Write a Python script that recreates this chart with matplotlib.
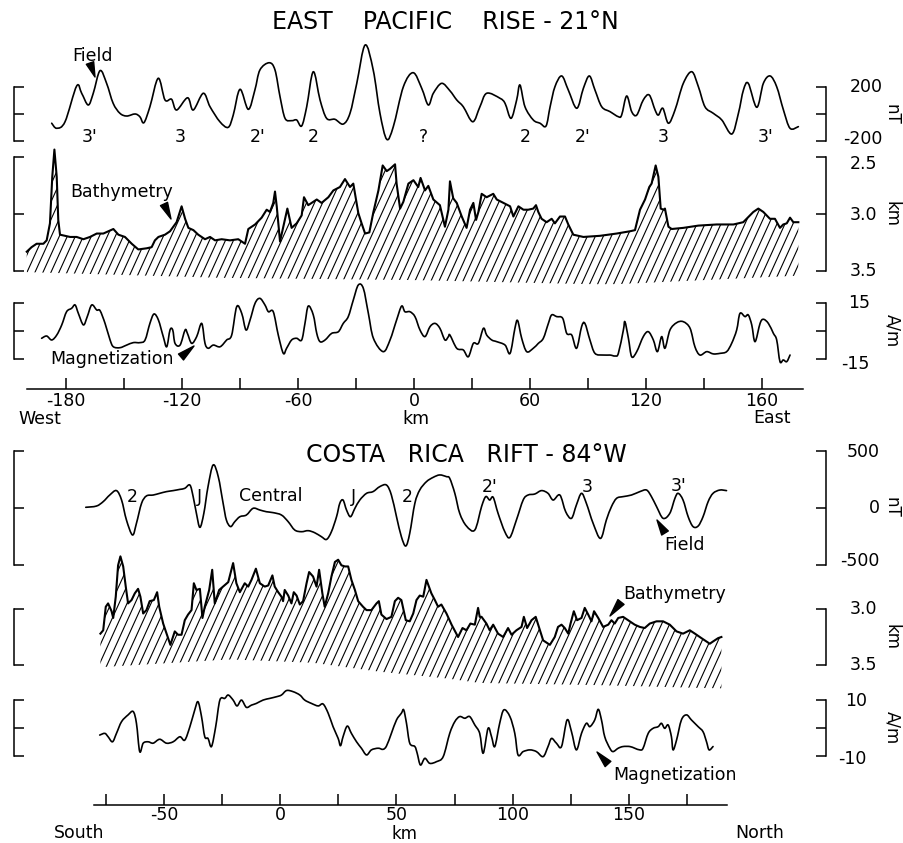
import numpy as np
import matplotlib
matplotlib.use("Agg")
import matplotlib.pyplot as plt
from matplotlib.collections import LineCollection
from matplotlib.transforms import IdentityTransform, blended_transform_factory, offset_copy
from matplotlib.path import Path
from matplotlib.patches import PathPatch, FancyArrowPatch

plt.rcParams['font.family'] = ['DejaVu Sans']

# ---------------- DATA : East Pacific Rise 21N ----------------
field_top_km = [-187.4, -184.8, -180.5, -174.5, -171.9, -168.5, -165.9, -162.4, -159.0, -155.6,
                -152.1, -148.6, -144.3, -141.8, -139.7, -136.6, -132.3, -128.8, -125.4, -122.8,
                -117.1, -114.2, -109.0, -105.5, -100.4, -96.1, -93.5, -90.0, -85.7, -82.3,
                -79.7, -74.9, -71.9, -69.3, -66.7, -63.3, -60.7, -58.1, -55.5, -52.1,
                -48.6, -45.2, -40.9, -36.6, -33.1, -29.6, -25.3, -21.1, -17.6, -14.1,
                -10.7, -5.5, -0.4, 4.0, 7.4, 10.0, 14.3, 18.6, 22.1, 25.5,
                30.4, 34.1, 37.6, 44.5, 47.1, 50.2, 53.1, 54.8, 57.4, 61.7,
                65.2, 68.3, 70.4, 72.9, 76.4, 79.8, 84.2, 87.6, 90.7, 93.6,
                97.1, 101.4, 105.7, 107.4, 110.0, 112.6, 115.2, 118.6, 121.7, 124.7,
                126.4, 128.7, 131.6, 135.0, 139.3, 143.7, 147.1, 150.5, 154.8, 159.2,
                164.4, 167.8, 170.4, 172.9, 177.3, 180.7, 184.2, 187.6, 191.1, 194.5, 198.8]
field_top_nT = [-66, -103, -55, 207, 154, 68, 154, 320, 227, 80,
                7, -13, 2, -18, -62, 55, 264, 105, 110, 31,
                121, 31, 154, 55, -55, -96, -6, 183, 36, 178,
                325, 378, 325, 129, -30, -47, -42, -86, 55, 312,
                105, -30, -37, -72, 7, 227, 508, 325, 7, -184,
                -91, 202, 305, 190, 68, 154, 227, 172, 105, 55,
                -55, 55, 154, 117, 80, -30, 105, 215, 55, -42,
                -66, -86, 55, 202, 281, 178, 44, 190, 281, 178,
                55, 19, -18, -6, 134, 19, -6, 105, 141, 31,
                -6, 44, -66, 31, 227, 312, 202, 55, 7, -42,
                -145, 7, 178, 227, 51, 227, 281, 202, 31, -103, -91]

bathy_top_km = [-200.3, -197.8, -195.2, -191.7, -190.0, -188.3, -187.1, -186.0, -184.8, -184.0,
                -183.1, -180.5, -177.9, -174.5, -171.0, -167.6, -164.1, -160.7, -155.5, -152.9,
                -149.5, -146.0, -142.6, -138.3, -135.7, -134.0, -132.2, -128.8, -126.2, -122.8,
                -120.2, -118.4, -116.7, -114.1, -111.6, -108.1, -105.5, -102.9, -99.5, -95.2,
                -90.9, -87.4, -85.7, -82.2, -78.8, -76.2, -74.5, -72.8, -71.9, -71.0,
                -69.3, -67.6, -65.5, -63.3, -60.7, -58.1, -56.9, -54.7, -52.9, -50.3,
                -47.8, -44.3, -41.7, -38.3, -35.7, -33.1, -31.4, -28.8, -27.1, -25.3,
                -23.1, -21.0, -18.4, -16.2, -14.1, -12.4, -9.8, -9.0, -7.2, -5.5,
                -2.9, -0.3, 2.2, 3.4, 5.7, 7.4, 10.0, 13.4, 16.0, 17.8,
                18.6, 20.3, 22.1, 24.7, 27.2, 29.0, 30.7, 32.1, 33.3, 35.0,
                37.6, 41.0, 42.8, 46.2, 49.7, 51.4, 54.0, 56.6, 59.1, 61.7,
                63.1, 64.3, 66.0, 68.6, 71.2, 72.9, 75.5, 78.1, 79.8, 82.4,
                87.6, 96.2, 104.8, 111.7, 114.3, 116.9, 119.5, 121.7, 122.9, 124.1,
                125.0, 126.4, 127.6, 129.0, 129.8, 131.6, 133.3, 139.3, 147.1, 156.6,
                165.2, 170.3, 175.5, 178.1, 180.7, 184.1, 186.7, 189.3, 191.0, 192.8,
                194.5, 196.2, 198.8]
bathy_top_depth = [3.33, 3.29, 3.26, 3.26, 3.23, 3.08, 2.67, 2.43, 2.67, 3.05,
                   3.18, 3.19, 3.20, 3.20, 3.22, 3.20, 3.17, 3.17, 3.13, 3.18,
                   3.20, 3.26, 3.31, 3.30, 3.29, 3.23, 3.20, 3.18, 3.15, 3.07,
                   2.93, 3.04, 3.12, 3.14, 3.18, 3.22, 3.20, 3.23, 3.22, 3.23,
                   3.22, 3.26, 3.13, 3.09, 3.03, 2.96, 2.98, 2.90, 2.80, 2.93,
                   3.24, 3.11, 2.95, 3.12, 3.08, 3.01, 2.85, 2.92, 2.90, 2.87,
                   2.90, 2.85, 2.79, 2.76, 2.69, 2.76, 2.73, 2.99, 3.08, 3.17,
                   3.16, 2.98, 2.79, 2.57, 2.62, 2.60, 2.56, 2.73, 2.95, 2.89,
                   2.73, 2.70, 2.76, 2.68, 2.79, 2.75, 2.87, 2.92, 3.11, 2.96,
                   2.71, 2.86, 2.90, 3.02, 3.12, 2.96, 2.90, 3.05, 2.98, 2.82,
                   2.85, 2.82, 2.87, 2.90, 2.93, 3.02, 2.93, 2.96, 2.96, 2.95,
                   2.92, 2.98, 3.04, 3.07, 3.04, 3.08, 3.02, 3.02, 3.09, 3.18,
                   3.20, 3.19, 3.17, 3.15, 3.14, 2.96, 2.87, 2.76, 2.73, 2.64,
                   2.57, 2.67, 2.95, 2.96, 2.95, 3.11, 3.13, 3.12, 3.10, 3.09,
                   3.09, 3.07, 2.98, 2.95, 2.98, 3.04, 3.04, 3.12, 3.09, 3.08,
                   3.03, 3.07, 3.07]
base_top_km = [-200, -100, 0, 100, 200]
base_top_depth = [3.51, 3.56, 3.58, 3.62, 3.54]

mag_top_km = [-192.6, -190.0, -187.4, -184.8, -182.2, -179.7, -177.1, -175.3, -173.6, -171.0,
              -169.0, -166.7, -164.1, -162.4, -159.8, -157.2, -155.5, -152.1, -148.6, -145.2,
              -141.7, -139.1, -136.6, -134.5, -132.2, -129.7, -127.9, -126.2, -124.8, -123.6,
              -121.0, -118.4, -117.2, -115.0, -112.4, -109.8, -108.1, -106.4, -103.8, -100.3,
              -96.9, -94.3, -91.7, -89.1, -86.9, -84.8, -82.2, -79.7, -77.1, -75.3,
              -72.8, -70.2, -67.6, -65.9, -63.3, -60.7, -58.1, -56.4, -54.7, -52.1,
              -50.3, -48.6, -46.0, -42.6, -39.1, -36.6, -34.0, -31.4, -28.8, -26.2,
              -23.6, -21.0, -15.9, -12.4, -9.0, -6.4, -4.7, -2.1, 0.5, 3.1,
              5.7, 8.3, 10.9, 13.4, 16.0, 17.8,
              18.6, 22.1, 25.5, 28.1, 30.7, 33.3, 35.9, 37.6, 40.2, 42.8,
              47.1, 49.7, 52.2, 53.6, 55.7, 58.3, 61.7, 64.3, 66.9, 69.5,
              71.2, 73.8, 76.9, 79.0, 81.6, 84.1, 86.7, 88.4, 91.0, 93.6,
              97.9, 101.4, 104.0, 105.7, 108.3, 109.1, 110.9, 112.6, 115.2, 118.6,
              121.2, 123.8, 125.9, 128.1, 129.8, 132.4, 135.9, 139.3, 142.8, 145.3,
              147.9, 151.4, 154.8, 158.3, 161.7, 164.3, 166.9, 168.6, 171.2, 172.9,
              174.7, 176.4, 179.0, 180.7, 183.3, 185.9, 187.6, 189.3, 191.0, 192.8, 194.5]
mag_top_Am = [-4.0, -2.8, -4.9, -2.3, 3.1, 10.1, 11.9, 13.7, 9.2, 3.1,
              7.5, 13.7, 11.0, 10.7, 3.9, -4.9, -8.5, -9.0, -7.6, -6.3,
              -6.3, -4.9, 3.9, 8.9, 5.7, -3.1, -8.5, 0.4, 0.4, -6.7,
              -7.6, 0.4, -1.4, -6.7, -3.1, 3.9, -6.7, -9.3, -7.6, -8.5,
              -4.9, -2.3, 12.8, 9.2, 0.4, 5.7, 14.6, 17.2, 13.7, 10.1,
              10.1, -2.3, -12.0, -9.3, -4.9, -4.0, -4.9, 3.9, 13.1, 8.4,
              -1.4, -5.8, -4.9, -1.4, -0.5, 3.9, 7.5, 16.3, 24.3, 22.5,
              9.2, -4.0, -11.1, -4.9, 5.7, 13.1, 10.1, 10.1, 7.5, 0.4,
              -3.1, 2.2, 3.9, 1.3, -4.9, -3.1,
              -2.3, -9.3, -10.2, -13.8, -6.7, -6.7, 1.3, -2.3, -4.9, -5.8,
              -7.6, -12.0, 1.3, 5.4, -4.0, -11.1, -9.3, -6.7, -4.0, 3.9,
              8.4, 7.5, 6.6, -1.4, -2.3, -9.3, 2.2, 3.9, -4.9, -12.0,
              -12.9, -12.9, -13.4, -12.0, 0.4, 4.8, -4.0, -13.8, -11.1, -3.1,
              -0.5, -4.9, -11.1, -3.1, -9.3, 0.4, 4.3, 4.8, 1.3, -8.5,
              -12.9, -11.1, -12.3, -12.0, -11.1, -6.7, 0.4, 9.2, 7.5, 8.4,
              3.1, -5.8, 3.9, 6.1, 3.9, -1.4, -4.9, -16.4, -15.5, -16.4, -12.9]

top_ticks = [-180, -150, -120, -90, -60, -30, 0, 30, 60, 90, 120, 150, 180]
top_tick_labels = ['-180', '', '-120', '', '-60', '', '0', '', '60', '', '120', '', '160']
top_anoms = ["3'", "3", "2'", "2", "?", "2", "2'", "3", "3'"]
top_anom_km = [-167.6, -121.0, -80.7, -52.3, 4.7, 57.4, 87.4, 128.8, 181.6]

# ---------------- DATA : Costa Rica Rift 84W ----------------
field_bot_km = [-83.7, -79.1, -76.2, -73.4, -70.5, -68.3, -66.2, -63.6, -61.9, -59.7,
                -57.6, -54.7, -51.9, -49.0, -46.1, -43.2, -41.1, -38.9, -37.5, -36.1,
                -34.6, -32.9, -31.1, -28.9, -26.7, -24.6, -23.2, -21.4, -19.6, -17.4,
                -14.6, -11.7, -8.8, -6.0, -3.1, 0.5, 3.4, 6.2, 9.1, 12.0,
                14.8, 17.7, 19.9, 22.0, 24.2, 25.6, 27.0, 28.5, 30.2, 32.1,
                34.2, 37.1, 39.9, 42.8, 45.7, 47.8, 50.0, 52.1, 54.0, 55.7,
                57.9, 60.0, 62.9, 65.8, 68.6, 71.5,
                72.9, 75.1, 77.2, 80.1, 83.7, 86.6, 88.4, 90.1, 91.6, 93.7,
                96.6, 98.8, 101.6, 104.5, 106.6, 109.5, 112.4, 115.2, 117.4, 120.3,
                122.8, 125.3, 127.4, 129.6, 131.7, 134.6, 137.8, 140.3, 142.5, 144.7,
                147.5, 151.1, 154.7, 157.6, 159.7, 161.9, 164.7, 167.6, 169.8, 171.2,
                173.3, 175.5, 177.6, 179.8, 181.9, 184.1, 186.2, 189.1, 192.0]
field_bot_nT = [4, 15, 54, 112, 151, 68, -108, -240, -137, 39,
                104, 112, 127, 142, 151, 162, 171, 200, 98, -49,
                -173, -49, 186, 377, 274, 39, -108, -166, -123, -79,
                -64, -5, -20, -35, -43, -64, -123, -196, -211, -202,
                -220, -255, -279, -211, -79, 39, 68, -20, -79, -5,
                68, 127, 142, 186, 200, 112, -79, -255, -337, -225,
                39, 156, 230, 268, 289, 274,
                259, 127, -49, -161, -196, 10, 98, 68, 92, -49,
                -211, -261, -108, 68, 112, 121, 151, 127, 68, 112,
                -35, -93, 24, 127, 39, -137, -270, -108, 10, 83,
                98, 112, 142, 156, 98, 10, -93, -49, 83, 127,
                68, -79, -166, -161, -79, 54, 127, 156, 151]

bathy_bot_km = [-77.4, -76.2, -75.1, -74.1, -72.6, -71.9, -70.8, -69.8, -68.8, -67.6,
                -66.5, -65.5, -64.0, -62.6, -61.2, -60.2, -59.0, -57.6, -56.2, -54.4,
                -53.0, -52.1, -50.4, -48.3, -47.3, -45.4, -44.0, -42.5, -41.1, -39.7,
                -38.2, -37.2, -36.1, -34.6, -33.5, -32.5, -30.6, -29.3, -28.2, -26.3,
                -24.6, -22.4, -20.3, -18.9, -17.4, -15.3, -13.8, -12.4, -10.5, -8.8,
                -6.7, -5.2, -3.4, -2.4, -0.9, 0.5, 1.2, 1.9, 3.4, 4.8,
                5.8, 7.0, 8.4, 9.8, 11.3, 12.4, 14.1, 15.6, 16.7, 18.1,
                19.1, 20.6, 22.0, 23.5, 24.9, 26.3, 27.8, 29.2, 30.6, 32.1,
                33.5, 35.6, 37.1, 39.2, 41.4, 42.4, 43.5, 45.7, 47.8, 49.3,
                50.7, 52.1, 54.0, 55.7, 57.2, 58.6, 60.0, 61.5, 62.9, 65.0,
                66.5, 67.9, 69.3, 71.5, 73.7, 76.5, 78.4, 80.1, 81.8, 83.7,
                85.1, 85.8,
                86.6, 88.7, 90.1, 91.6, 93.7, 95.9, 98.0, 99.5, 101.6, 103.8,
                104.8, 106.2, 108.1, 109.9, 111.4, 113.1, 116.0, 118.1, 119.5, 121.0,
                122.4, 123.9, 124.9, 126.3, 127.7, 129.6, 131.0, 132.5, 133.9, 135.0,
                136.8, 138.9, 141.1, 142.5, 143.9, 145.4, 147.5, 150.4, 152.5, 154.7,
                156.8, 159.0, 161.9, 164.7, 167.6, 170.5, 173.3, 176.2, 178.4, 181.2,
                183.4, 184.8, 186.2, 188.4, 189.8]
bathy_bot_depth = [3.22, 3.19, 2.98, 2.95, 3.02, 3.08, 2.89, 2.61, 2.53, 2.62,
                   2.80, 2.95, 2.92, 2.86, 2.82, 2.89, 3.04, 3.01, 2.93, 2.92,
                   2.85, 2.98, 3.13, 3.26, 3.32, 3.20, 3.23, 3.23, 3.10, 3.05,
                   3.01, 2.77, 2.83, 2.82, 3.08, 2.98, 2.83, 2.65, 2.95, 2.83,
                   2.80, 2.76, 2.59, 2.77, 2.85, 2.77, 2.80, 2.74, 2.64, 2.77,
                   2.80, 2.79, 2.70, 2.80, 2.85, 2.89, 2.93, 2.83, 2.88, 2.95,
                   2.85, 2.88, 2.96, 2.93, 2.77, 2.67, 2.71, 2.80, 2.65, 2.86,
                   2.98, 2.86, 2.71, 2.58, 2.56, 2.61, 2.62, 2.62, 2.74, 2.83,
                   2.93, 2.98, 3.01, 3.01, 2.95, 2.93, 3.05, 3.09, 3.07, 2.93,
                   2.90, 2.92, 3.10, 3.11, 3.04, 2.92, 2.88, 2.89, 2.74, 2.86,
                   2.92, 2.98, 2.96, 3.04, 3.14, 3.25, 3.17, 3.19, 3.13, 3.14,
                   2.99, 3.07,
                   3.07, 3.13, 3.19, 3.14, 3.22, 3.25, 3.17, 3.23, 3.19, 3.16,
                   3.07, 3.17, 3.10, 3.07, 3.17, 3.28, 3.32, 3.25, 3.16, 3.14,
                   3.17, 3.22, 3.13, 3.02, 3.10, 3.08, 2.99, 3.05, 3.11, 3.02,
                   3.08, 3.16, 3.14, 3.10, 3.13, 3.08, 3.07, 3.11, 3.14, 3.16,
                   3.17, 3.13, 3.11, 3.11, 3.14, 3.20, 3.22, 3.19, 3.22, 3.26,
                   3.29, 3.31, 3.29, 3.26, 3.25]
base_bot_km = [-78.0, -21.7, 14.0, 42.8, 71.6, 85.8, 137.5, 190.0]
base_bot_depth = [3.52, 3.45, 3.48, 3.56, 3.62, 3.66, 3.68, 3.71]

mag_bot_km = [-77.7, -75.5, -74.1, -72.2, -70.5, -68.3, -65.5, -63.3, -61.9, -60.5,
              -59.0, -56.9, -54.7, -51.9, -49.0, -46.1, -43.2, -41.1, -38.9, -36.8,
              -35.4, -33.9, -32.5, -31.1, -29.6, -27.8, -26.0, -23.9, -22.4, -20.3,
              -18.6, -16.7, -14.6, -12.4, -10.3, -7.4, -4.5, -1.6, 0.5, 2.7,
              5.5, 8.4, 10.5, 13.4, 16.3, 18.4, 20.6, 22.7, 24.9, 25.9,
              27.0, 28.8, 30.6, 32.8, 34.9, 37.1, 39.2, 42.1, 44.2, 45.7,
              47.8, 50.0, 52.1, 53.1, 54.3, 55.7, 57.9, 58.9, 60.3, 62.2,
              64.3, 67.2, 70.1,
              72.9, 75.1, 77.2, 79.4, 81.5, 83.7, 85.8, 87.3, 89.4, 90.9,
              92.3, 94.4, 96.2, 98.8, 100.9, 102.3, 104.5, 107.4, 110.2, 113.1,
              115.2, 116.7, 118.8, 121.0, 123.4, 125.3, 127.4, 129.6, 131.7, 133.2,
              135.3, 136.8, 138.2, 139.6, 141.8, 143.2, 145.4, 147.5, 150.4, 152.5,
              154.7, 156.1, 158.3, 160.4, 162.6, 164.0, 165.4, 166.9, 168.3, 169.0,
              170.5, 172.6, 174.8, 176.9, 179.8, 181.9, 183.4, 184.5, 186.2]
mag_bot_Am = [-2.7, -2.1, -3.3, -5.1, -2.1, 2.1, 4.5, 5.7, 1.5, -8.6,
              -5.6, -5.1, -5.6, -4.2, -5.6, -5.1, -3.3, -4.5, 0.3, 6.3,
              9.2, 3.9, -3.3, -3.9, -6.8, 0.3, 9.8, 10.4, 11.6, 9.8,
              7.7, 9.8, 7.2, 8.0, 8.6, 9.8, 10.4, 11.0, 11.6, 13.2,
              12.8, 11.6, 9.8, 8.6, 7.7, 8.4, 5.1, 0.3, -3.9, -6.5,
              -3.3, 0.5, -2.1, -5.1, -7.4, -9.8, -8.0, -7.4, -7.8, -6.6,
              -2.1, 2.7, 5.1, 6.3, 1.5, -5.6, -6.8, -9.2, -13.4, -11.0,
              -12.8, -12.2, -10.4,
              -2.1, 2.1, 3.9, 3.3, 3.9, 0.9, -2.1, -9.2, -0.3, -3.3,
              -6.8, 1.5, 6.3, 3.9, -2.1, -9.8, -8.6, -8.0, -8.6, -10.4,
              -6.8, -3.9, -5.6, -6.8, 2.7, -1.5, -8.0, -2.1, 1.5, 0.3,
              2.7, 6.5, 2.7, -3.3, -7.4, -8.6, -7.4, -6.8, -6.8, -7.4,
              -8.0, -7.4, -2.1, -0.3, 0.3, 1.5, -0.3, 0.9, -3.3, -8.0,
              -4.5, 2.7, 4.5, 2.7, 0.3, -1.5, -5.1, -8.0, -6.8]

bot_ticks = [-75, -50, -25, 0, 25, 50, 75, 100, 125, 150, 175]
bot_tick_labels = ['', '-50', '', '0', '', '50', '', '100', '', '150', '']

# ---------------- FIGURE ----------------
W, H = 904, 843
fig = plt.figure(figsize=(W / 100, H / 100), dpi=100)

TOP_X = ((66, -180), (762, 180))     # pixel <-> km calibration (layout)
BOT_X = ((106, -75), (687, 175))
FS = 12.5


def make_ax(xref, yref):
    ax = fig.add_axes([0, 0, 1, 1])
    (xp1, xv1), (xp2, xv2) = xref
    sx = (xv2 - xv1) / (xp2 - xp1)
    ax.set_xlim(xv1 - xp1 * sx, xv1 + (W - xp1) * sx)
    (yp1, yv1), (yp2, yv2) = yref
    sy = (yv2 - yv1) / (yp2 - yp1)
    ax.set_ylim(yv1 + (H - yp1) * sy, yv1 - yp1 * sy)
    ax.patch.set_visible(False)
    for s in ax.spines.values():
        s.set_visible(False)
    ax.set_xticks([])
    ax.set_yticks([])
    return ax


def brackets(ax, lo, hi, ticks, labels, lab_right, unit, unit_y, shifts=None):
    for side, xp in (('left', 14), ('right', 826)):
        sp = ax.spines[side]
        sp.set_visible(True)
        sp.set_position(('axes', xp / W))
        sp.set_bounds(lo, hi)
        sp.set_linewidth(1.1)
    ax.set_yticks(ticks)
    ax.tick_params(axis='y', left=True, right=True, direction='in', length=7,
                   width=1.1, labelleft=False, labelright=False)
    tr = blended_transform_factory(ax.transAxes, ax.transData)
    shifts = shifts or [0] * len(ticks)
    for v, s, d in zip(ticks, labels, shifts):
        if s:
            ax.text(lab_right / W, v, s, ha='right', va='center', fontsize=FS,
                    transform=offset_copy(tr, fig=fig, y=-d, units='dots'))
    ax.text(892 / W, unit_y, unit, transform=tr, rotation=-90, ha='center',
            va='center', fontsize=FS - 0.5)


def smooth_line(ax, x, y, lw=1.2):
    """Smooth curve drawn through every data point (cubic Bezier segments)."""
    P = np.column_stack([np.asarray(x, float), np.asarray(y, float)])
    n = len(P)
    verts = [P[0]]
    codes = [Path.MOVETO]
    for i in range(n - 1):
        p0 = P[i - 1] if i > 0 else P[i]
        p1, p2 = P[i], P[i + 1]
        p3 = P[i + 2] if i + 2 < n else P[i + 1]
        verts += [p1 + (p2 - p0) / 6.0, p2 - (p3 - p1) / 6.0, p2]
        codes += [Path.CURVE4] * 3
    ax.add_patch(PathPatch(Path(verts, codes), fill=False, lw=lw, edgecolor='k',
                           joinstyle='round', capstyle='round'))


def hatch_fill(ax, x, top, base_x, base_y, spacing=8.0, slope=2.2, lw=0.8):
    x = np.asarray(x)
    base = np.interp(x, base_x, base_y)
    poly = ax.fill_between(x, top, base, facecolor='none', edgecolor='none')
    path = poly.get_paths()[0]
    disp = ax.transData.transform(path.vertices)
    xmin, ymin = disp.min(axis=0)
    xmax, ymax = disp.max(axis=0)
    h = ymax - ymin
    segs = []
    x0 = xmin - h / slope
    while x0 < xmax:
        segs.append([(x0, ymin), (x0 + h / slope, ymax)])
        x0 += spacing
    lc = LineCollection(segs, colors='k', linewidths=lw, transform=IdentityTransform())
    lc.set_clip_path(path, ax.transData)
    ax.add_collection(lc, autolim=False)


def xaxis(xref, y_px, lo, hi, ticks, labels, pad=2):
    ax = make_ax(xref, ((0, 0), (H, H)))
    sp = ax.spines['bottom']
    sp.set_visible(True)
    sp.set_position(('data', y_px))
    sp.set_bounds(lo, hi)
    sp.set_linewidth(1.1)
    ax.set_xticks(ticks, labels)
    ax.tick_params(axis='x', bottom=True, direction='in', length=8, width=1.1,
                   labelsize=FS, pad=pad)
    return ax


def ftext(x, y, s, **kw):
    kw.setdefault('fontsize', FS)
    fig.text(x / W, 1 - y / H, s, ha=kw.pop('ha', 'center'), va=kw.pop('va', 'center'), **kw)


def arrow(tail, tip):
    fig.add_artist(FancyArrowPatch(
        (tail[0], H - tail[1]), (tip[0], H - tip[1]), transform=IdentityTransform(),
        arrowstyle='wedge,tail_width=4', mutation_scale=1.4, color='k',
        shrinkA=0, shrinkB=0))


# ---------- EAST PACIFIC RISE ----------
ax = make_ax(TOP_X, ((87, 200), (141.5, -200)))
smooth_line(ax, field_top_km, field_top_nT)
brackets(ax, -200, 200, [-200, 0, 200], ['-200', '', '200'], 883, 'nT', 0, [-2, 0, 0])
for s, k in zip(top_anoms, top_anom_km):
    ax.text(k, -170, s, ha='center', va='center', fontsize=FS)

ax = make_ax(TOP_X, ((157.5, 2.5), (271, 3.5)))
hatch_fill(ax, bathy_top_km, bathy_top_depth, base_top_km, base_top_depth)
ax.plot(bathy_top_km, bathy_top_depth, color='k', lw=1.5)
brackets(ax, 2.5, 3.5, [2.5, 3.0, 3.5], ['2.5', '3.0', '3.5'], 877, 'km', 3.0, [7, 1, 0])

ax = make_ax(TOP_X, ((302.5, 15), (359, -15)))
smooth_line(ax, mag_top_km, mag_top_Am)
brackets(ax, -15, 15, [-15, 0, 15], ['-15', '', '15'], 870, 'A/m', 0, [5, 0, 0])

xaxis(TOP_X, 389, -200, 201, top_ticks, top_tick_labels)

ftext(445, 22, 'EAST    PACIFIC    RISE - 21°N', fontsize=17)
ftext(92, 56, 'Field')
arrow((90, 63), (95, 77))
ftext(122, 192, 'Bathymetry')
arrow((164, 204), (171, 219))
ftext(112, 359, 'Magnetization')
arrow((181, 357), (194, 346))
ftext(40, 419, 'West')
ftext(416, 419, 'km')
ftext(772, 418, 'East')

# ---------- COSTA RICA RIFT ----------
ax = make_ax(BOT_X, ((451, 500), (564.5, -500)))
smooth_line(ax, field_bot_km, field_bot_nT)
brackets(ax, -500, 500, [-500, 0, 500], ['-500', '0', '500'], 880, 'nT', 0, [-4, 0, 1])

ax = make_ax(BOT_X, ((609, 3.0), (665, 3.5)))
hatch_fill(ax, bathy_bot_km, bathy_bot_depth, base_bot_km, base_bot_depth)
ax.plot(bathy_bot_km, bathy_bot_depth, color='k', lw=1.5)
brackets(ax, 3.0, 3.5, [3.0, 3.5], ['3.0', '3.5'], 877, 'km', 3.25)

ax = make_ax(BOT_X, ((699.5, 10), (755.5, -10)))
smooth_line(ax, mag_bot_km, mag_bot_Am)
brackets(ax, -10, 10, [-10, 0, 10], ['-10', '', '10'], 867, 'A/m', 0, [3, 0, 2])

xaxis(BOT_X, 805, -80, 192, bot_ticks, bot_tick_labels, pad=0.5)

ftext(466, 455, 'COSTA   RICA   RIFT - 84°W', fontsize=17)
for s, x, y in [('2', 132, 497), ('J', 199, 497), ('Central', 271, 496), ('J', 353, 497),
                ('2', 407, 497), ("2'", 490, 487), ('3', 587, 487), ("3'", 679, 486)]:
    ftext(x, y, s)
ftext(685, 545, 'Field')
arrow((665, 533), (657, 520))
ftext(675, 594, 'Bathymetry')
arrow((621, 602), (610, 616))
ftext(675, 775, 'Magnetization')
arrow((608, 764), (597, 752))
ftext(79, 833, 'South')
ftext(405, 834, 'km', fontsize=12)
ftext(760, 833, 'North')

fig.savefig('out.png', dpi=100)
